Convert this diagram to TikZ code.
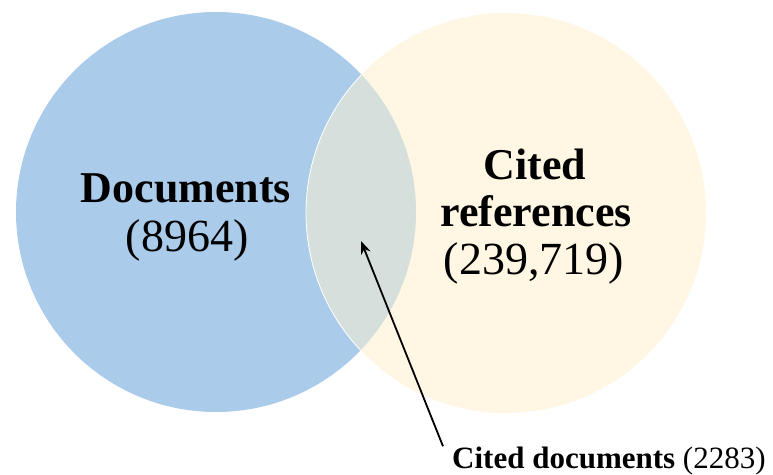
\documentclass[tikz,border=0pt]{standalone}
\usepackage{fontspec}
\setmainfont{Liberation Serif}
\usetikzlibrary{arrows.meta}
\definecolor{docblue}{RGB}{171,203,234}
\definecolor{refcream}{RGB}{255,246,227}
\definecolor{lensgray}{RGB}{213,223,220}

\begin{document}
\begin{tikzpicture}[x=1pt,y=1pt,
  bigtxt/.style={font=\fontsize{44}{50}\selectfont, anchor=base, inner sep=0pt},
  numtxt/.style={font=\fontsize{46}{50}\selectfont, anchor=base, inner sep=0pt},
  smalltxt/.style={font=\fontsize{31}{36}\selectfont, anchor=base west, inner sep=0pt}]
 \useasboundingbox (0,0) rectangle (773,474);
 \coordinate (L) at (216,262); \coordinate (R) at (506,261);
 \fill[docblue] (L) circle (200); \fill[refcream] (R) circle (200);
 \begin{scope} \clip (L) circle (200); \fill[lensgray] (R) circle (200); \draw[white, line width=0.8] (R) circle (200); \end{scope}
 \node[bigtxt] (docs) at (186,271) {\textbf{Documents}};
 \node[numtxt] (docsn) at (187,222) {(8964)};
 \node[bigtxt] (cited) at (535,294) {\textbf{Cited}};
 \node[bigtxt] (refs) at (536,247) {\textbf{references}};
 \node[numtxt] (refsn) at (534,199) {(239,719)};
 \node[smalltxt] (cdocs) at (452,6) {\textbf{Cited documents} (2283)};
 \coordinate (tip) at (361,233);
 \draw[-{Stealth[length=13pt,width=10pt]}, line width=1.8] ([xshift=-9pt]cdocs.north west) -- (tip);
\end{tikzpicture}
\end{document}
